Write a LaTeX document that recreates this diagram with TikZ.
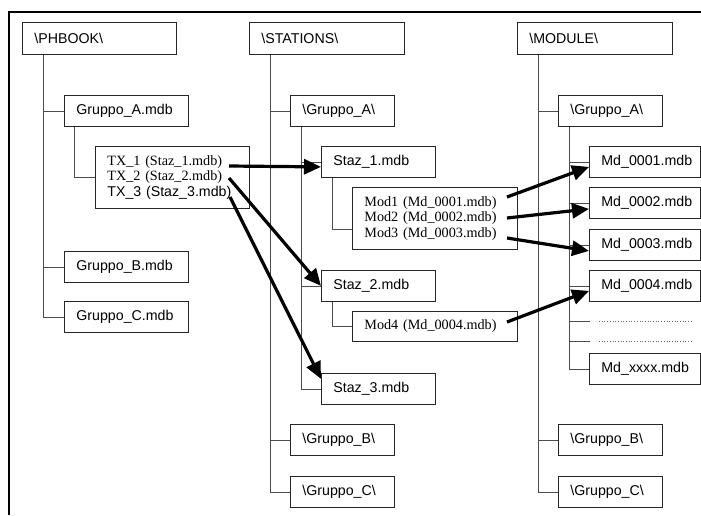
\documentclass[tikz,border=0pt]{standalone}
\usepackage{fontspec}
\setmainfont{Liberation Serif}
\setsansfont{Liberation Sans}
\usetikzlibrary{arrows.meta}
\tikzset{
  box/.style={draw=black!85, line width=0.8pt, anchor=north west, inner xsep=12pt, inner ysep=0pt,
    minimum height=31pt, align=left, font=\sffamily\fontsize{14.2}{15}\selectfont},
  serifbox/.style={box, font=\rmfamily\fontsize{14.2}{15.2}\selectfont},
  tree/.style={draw=black!70, line width=0.8pt},
  link/.style={line width=3.2pt, -{Triangle[length=17pt,width=15pt]}},
}
\begin{document}
\begin{tikzpicture}[x=1pt,y=-1pt]
    \useasboundingbox (0,0) rectangle (701,515);
    \draw [line width=2.2pt] (701,12) -- (9,12) -- (9,515);
    % phone book
    \node [box, text width=130pt, minimum height=32pt] (phbook) at (22,22) {\textbackslash PHBOOK\textbackslash};
    \node [box, text width=100pt] (grpA_mdb) at (64,95) {Gruppo\_A.mdb};
    \node [serifbox, text width=130pt, minimum height=62pt] (txbox) at (95,146)
        {TX\_1 (Staz\_1.mdb)\\TX\_2 (Staz\_2.mdb)\\{\sffamily TX\_3 (Staz\_3.mdb)}};
    \node [box, text width=100pt] (grpB_mdb) at (64,251) {Gruppo\_B.mdb};
    \node [box, text width=100pt] (grpC_mdb) at (64,301) {Gruppo\_C.mdb};
    % stations
    \node [box, text width=131pt, minimum height=32pt] (stations) at (249,22) {\textbackslash STATIONS\textbackslash};
    \node [box, text width=80pt] (stA) at (290,95) {\textbackslash Gruppo\_A\textbackslash};
    \node [box, text width=90pt] (staz1) at (321,146) {Staz\_1.mdb};
    \node [serifbox, text width=141pt, minimum height=62pt] (modbox) at (352,187)
        {Mod1 (Md\_0001.mdb)\\Mod2 (Md\_0002.mdb)\\Mod3 (Md\_0003.mdb)};
    \node [box, text width=90pt] (staz2) at (321,270) {Staz\_2.mdb};
    \node [serifbox, text width=141pt, minimum height=30pt] (mod4) at (352,311) {Mod4 (Md\_0004.mdb)};
    \node [box, text width=90pt] (staz3) at (321,373) {Staz\_3.mdb};
    \node [box, text width=80pt] (stB) at (290,424) {\textbackslash Gruppo\_B\textbackslash};
    \node [box, text width=80pt] (stC) at (290,476) {\textbackslash Gruppo\_C\textbackslash};
    % modules
    \node [box, text width=131pt, minimum height=32pt] (module) at (517,22) {\textbackslash MODULE\textbackslash};
    \node [box, text width=80pt] (mdA) at (558,95) {\textbackslash Gruppo\_A\textbackslash};
    \node [box, text width=87pt] (md1) at (589,146) {Md\_0001.mdb};
    \node [box, text width=87pt] (md2) at (589,187) {Md\_0002.mdb};
    \node [box, text width=87pt] (md3) at (589,229) {Md\_0003.mdb};
    \node [box, text width=87pt] (md4) at (589,270) {Md\_0004.mdb};
    \node [box, text width=87pt] (mdx) at (589,353) {Md\_xxxx.mdb};
    \node [box, text width=80pt] (mdB) at (558,424) {\textbackslash Gruppo\_B\textbackslash};
    \node [box, text width=80pt] (mdC) at (558,476) {\textbackslash Gruppo\_C\textbackslash};
    \coordinate (dots1) at (590,321);
    \coordinate (dots2) at (590,341);
    \draw [black!60, line width=0.7pt, dotted] (599,321) -- (691,321);
    \draw [black!60, line width=0.7pt, dotted] (599,341) -- (691,341);
    % tree lines
    \foreach \c in {grpA_mdb,grpB_mdb,grpC_mdb}
        \draw [tree] ([xshift=21pt]phbook.south west) |- (\c.west);
    \draw [tree] ([xshift=10pt]grpA_mdb.south west) |- (txbox.west);
    \foreach \c in {stA,stB,stC}
        \draw [tree] ([xshift=21pt]stations.south west) |- (\c.west);
    \foreach \c in {staz1,staz2,staz3}
        \draw [tree] ([xshift=11pt]stA.south west) |- (\c.west);
    \draw [tree] ([xshift=11pt]staz1.south west) |- ([yshift=-11pt]modbox.west);
    \draw [tree] ([xshift=11pt]staz2.south west) |- (mod4.west);
    \foreach \c in {mdA,mdB,mdC}
        \draw [tree] ([xshift=21pt]module.south west) |- (\c.west);
    \foreach \c in {md1,md2,md3,md4,dots1,dots2,mdx}
        \draw [tree] ([xshift=11pt]mdA.south west) |- (\c.west);
    % links
    \coordinate (tx1) at (229,166);
    \coordinate (tx2) at (229,178);
    \coordinate (tx3) at (230,197);
    \coordinate (mod1) at (507,197);
    \coordinate (mod2) at (507,218);
    \coordinate (mod3) at (507,238);
    \coordinate (mod4end) at (507,322);
    \draw [link] (tx1) -- ([yshift=-5pt]staz1.west);
    \draw [link] (tx2) -- (staz2.west);
    \draw [link] (tx3) -- ([yshift=10pt]staz3.west);
    \draw [link] (mod1) -- ([yshift=-5pt]md1.west);
    \draw [link] (mod2) -- ([yshift=-6pt]md2.west);
    \draw [link] (mod3) -- ([yshift=-6pt]md3.west);
    \draw [link] (mod4end) -- ([yshift=-5pt]md4.west);
\end{tikzpicture}
\end{document}
